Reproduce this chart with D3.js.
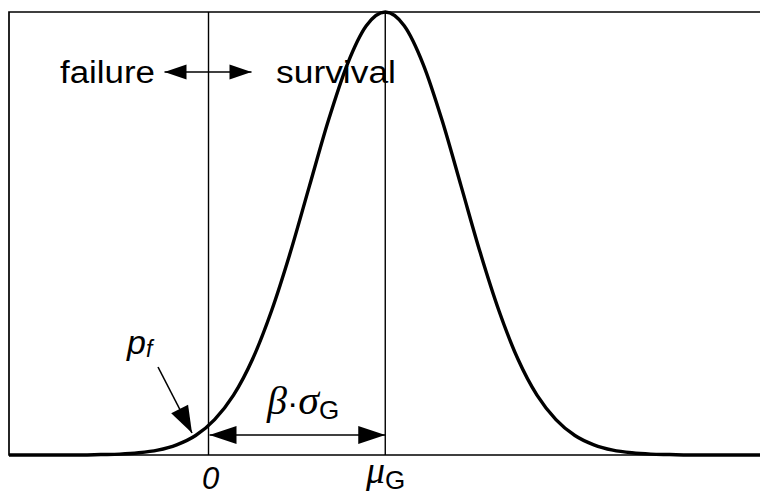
<!DOCTYPE html>
<html>
<head>
<meta charset="utf-8">
<script src="https://cdn.jsdelivr.net/npm/d3@7"></script>
<style>
  body { margin: 0; background: #fff; }
  svg { display: block; }
  .lbl { font-family: "Liberation Sans", Arial, sans-serif; fill: #000; }
  .greek { font-family: "Liberation Serif", "Times New Roman", serif; font-style: italic; }
</style>
</head>
<body>
<svg id="chart" width="760" height="497"></svg>
<script>
// limit state G: failure at 0, mean muG, std = 1 (beta = muG / sigma)
const muG = 2.33
const xDomain = [-2.63, 7.27]
// curve: offset from the mean (in sigma) and relative height
const curveOffsets = [0, 0.25, 0.5, 0.75, 1.0, 1.25, 1.5, 1.75, 2.0, 2.25, 2.5, 2.75, 3.0, 3.25, 3.5, 3.75, 4.0]
const curveHeights = [1.0, 0.969, 0.882, 0.755, 0.607, 0.458, 0.325, 0.216, 0.135, 0.080, 0.044, 0.023, 0.011, 0.005, 0.002, 0.001, 0.0]
const textFailure = "failure"
const textSurvival = "survival"

const plotL = 9, plotR = 760, plotT = 12, plotB = 455

let svg = d3.select("#chart")
let xScale = d3.scaleLinear().domain(xDomain).range([plotL, plotR])
let yScale = d3.scaleLinear().domain([0, 1]).range([plotB, plotT])

// build symmetric curve points from the read values
let pts = []
pts.push([xDomain[0], 0])
for (let i = curveOffsets.length - 1; i > 0; i--) pts.push([muG - curveOffsets[i], curveHeights[i]])
for (let i = 0; i < curveOffsets.length; i++) pts.push([muG + curveOffsets[i], curveHeights[i]])
pts.push([xDomain[1], 0])

// frame (open on the right)
svg.append("path")
    .attr("d", `M${plotR},${plotT}H${plotL}V${plotB}H${plotR}`)
    .attr("fill", "none").attr("stroke", "#000").attr("stroke-width", 1.7)

// vertical lines at 0 and muG
;[0, muG].forEach(function (v) {
    svg.append("line")
        .attr("x1", xScale(v)).attr("x2", xScale(v))
        .attr("y1", plotT).attr("y2", plotB)
        .attr("stroke", "#000").attr("stroke-width", 1.4)
})

// density curve
svg.append("path")
    .datum(pts)
    .attr("d", d3.line().x(d => xScale(d[0])).y(d => yScale(d[1])).curve(d3.curveMonotoneX))
    .attr("fill", "none").attr("stroke", "#000").attr("stroke-width", 3.4)

// arrow helper: line from (x1,y1) to (x2,y2) with filled head at end
function arrowHead(x1, y1, x2, y2, len, half) {
    let a = Math.atan2(y2 - y1, x2 - x1)
    let bx = x2 - len * Math.cos(a), by = y2 - len * Math.sin(a)
    let px = -Math.sin(a) * half, py = Math.cos(a) * half
    svg.append("path")
        .attr("d", `M${x2},${y2}L${bx + px},${by + py}L${bx - px},${by - py}Z`)
        .attr("fill", "#000")
}
function arrow(x1, y1, x2, y2, len, half, both) {
    svg.append("line")
        .attr("x1", x1).attr("y1", y1).attr("x2", x2).attr("y2", y2)
        .attr("stroke", "#000").attr("stroke-width", 1.6)
    arrowHead(x1, y1, x2, y2, len, half)
    if (both) arrowHead(x2, y2, x1, y1, len, half)
}

// failure <-> survival
let x0 = xScale(0)
arrow(x0 - 44, 72, x0 + 43, 72, 22, 7.5, true)
svg.append("text").attr("class", "lbl")
    .attr("x", 60).attr("y", 83).attr("font-size", 31)
    .attr("textLength", 95).attr("lengthAdjust", "spacingAndGlyphs")
    .text(textFailure)
svg.append("text").attr("class", "lbl")
    .attr("x", 276).attr("y", 83).attr("font-size", 31)
    .attr("textLength", 120).attr("lengthAdjust", "spacingAndGlyphs")
    .text(textSurvival)

// beta * sigma arrow
arrow(x0 + 1, 435, xScale(muG), 435, 27, 9, true)
let bs = svg.append("text").attr("class", "lbl").attr("x", 267).attr("y", 414).attr("font-size", 34)
bs.append("tspan").attr("class", "greek").attr("font-size", 40).text("β")
bs.append("tspan").text("·")
bs.append("tspan").attr("class", "greek").attr("font-size", 42).text("σ")
bs.append("tspan").attr("font-size", 26).attr("dy", 5).text("G")

// p_f pointer
arrow(158, 367, 192, 433, 27, 9.5, false)
let pf = svg.append("text").attr("class", "lbl").attr("x", 127).attr("y", 354).attr("font-size", 34).attr("font-style", "italic")
pf.append("tspan").text("p")
pf.append("tspan").attr("font-size", 23).attr("dy", 3).text("f")

// axis labels
svg.append("text").attr("class", "lbl")
    .attr("x", x0 + 2).attr("y", 489).attr("font-size", 31).attr("font-style", "italic")
    .attr("text-anchor", "middle").text("0")
let mu = svg.append("text").attr("class", "lbl").attr("x", 366).attr("y", 483).attr("font-size", 34)
mu.append("tspan").attr("class", "greek").attr("font-size", 38).text("μ")
mu.append("tspan").attr("font-size", 26).attr("dy", 6).text("G")
</script>
</body>
</html>
